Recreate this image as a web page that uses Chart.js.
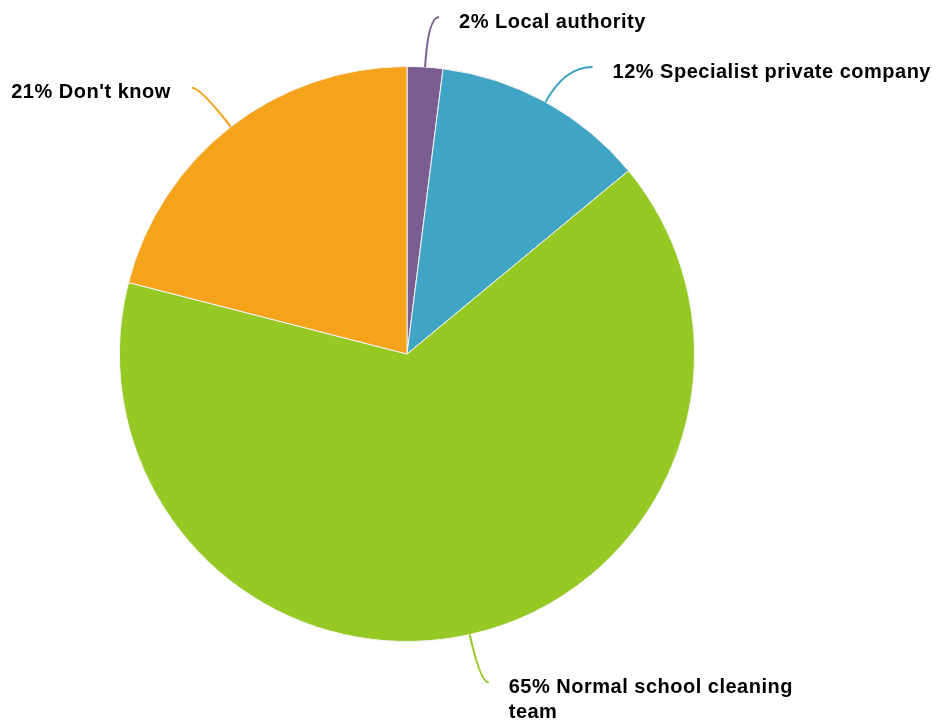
<!DOCTYPE html>
<html>
<head>
<meta charset="utf-8">
<script src="https://cdn.jsdelivr.net/npm/chart.js@4/dist/chart.umd.min.js"></script>
<style>
html,body{margin:0;padding:0;background:#fff;}
#wrap{width:941px;height:724px;position:relative;}
</style>
</head>
<body>
<div id="wrap"><canvas id="c" width="941" height="724"></canvas></div>
<script>
const categories = ["Local authority", "Specialist private company", "Normal school cleaning team", "Don't know"];
const values = [2, 12, 65, 21];
const colors = ["#7B5E91", "#40A4C4", "#97C925", "#F5A31A"];
// leader line end offsets from slice edge (dx, dy) and label side
const leaderOffsets = [[14, -50], [47, -35], [19, 48], [-39, -39]];
const labelMaxWidth = [400, 400, 300, 400];

const labelPlugin = {
  id: 'pieLabels',
  afterDatasetsDraw(chart) {
    const ctx = chart.ctx;
    const meta = chart.getDatasetMeta(0);
    const total = values.reduce((a, b) => a + b, 0);
    ctx.save();
    ctx.font = 'bold 20px "Liberation Sans", Arial, Helvetica, sans-serif';
    if ('letterSpacing' in ctx) ctx.letterSpacing = '0.5px';
    ctx.textBaseline = 'middle';
    meta.data.forEach((arc, i) => {
      const p = arc.getProps(['x', 'y', 'startAngle', 'endAngle', 'outerRadius'], true);
      const mid = (p.startAngle + p.endAngle) / 2;
      const ex = p.x + Math.cos(mid) * p.outerRadius;
      const ey = p.y + Math.sin(mid) * p.outerRadius;
      const [dx, dy] = leaderOffsets[i];
      const tx = ex + dx, ty = ey + dy;
      const t = dy / Math.sin(mid);
      const cx = ex + Math.cos(mid) * t;
      ctx.strokeStyle = colors[i];
      ctx.lineWidth = 2;
      ctx.beginPath();
      ctx.moveTo(ex, ey);
      ctx.quadraticCurveTo(cx, ty, tx, ty);
      ctx.stroke();
      const text = Math.round(values[i] / total * 100) + '% ' + categories[i];
      const words = text.split(' ');
      const lines = [];
      let cur = '';
      words.forEach(w => {
        const test = cur ? cur + ' ' + w : w;
        if (ctx.measureText(test).width > labelMaxWidth[i] && cur) { lines.push(cur); cur = w; }
        else cur = test;
      });
      if (cur) lines.push(cur);
      ctx.fillStyle = '#000';
      const right = dx >= 0;
      ctx.textAlign = right ? 'left' : 'right';
      const lx = right ? tx + 20 : tx - 21;
      lines.forEach((ln, k) => {
        ctx.fillText(ln, lx, ty + 5 + k * 25);
      });
    });
    ctx.restore();
  }
};

new Chart(document.getElementById('c'), {
  type: 'pie',
  data: {
    labels: categories,
    datasets: [{
      data: values,
      backgroundColor: colors,
      borderColor: '#f4f4f4',
      borderWidth: 1
    }]
  },
  options: {
    responsive: false,
    animation: false,
    layout: { padding: { left: 119, right: 246, top: 66, bottom: 82 } },
    plugins: {
      legend: { display: false },
      tooltip: { enabled: false }
    }
  },
  plugins: [labelPlugin]
});
</script>
</body>
</html>
